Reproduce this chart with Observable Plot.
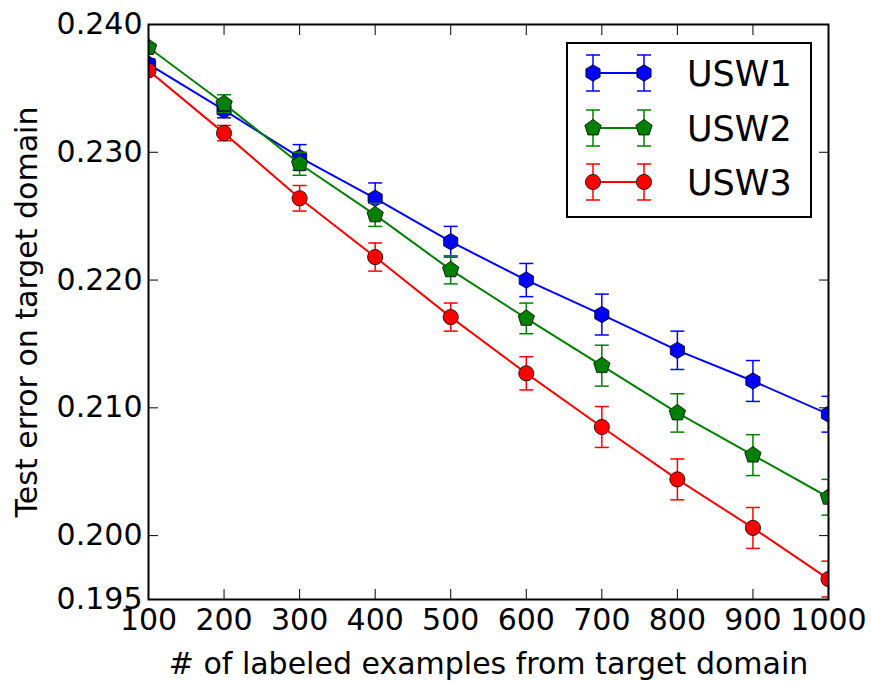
<!DOCTYPE html>
<html><head><meta charset="utf-8">
<script src="https://cdn.jsdelivr.net/npm/d3@7"></script>
<script src="https://cdn.jsdelivr.net/npm/@observablehq/plot@0.6"></script>
<style>body{margin:0;background:#fff}</style>
</head><body><div id="chart"></div>
<script>
// ---- data ----
const examples = [100, 200, 300, 400, 500, 600, 700, 800, 900, 1000];
const seriesNames = ["USW1", "USW2", "USW3"];
const seriesColors = ["#0000ff", "#008000", "#ff0000"];
const usw1 = [0.2369, 0.2333, 0.2296, 0.2264, 0.2230, 0.2200, 0.2173, 0.2145, 0.2121, 0.2095];
const usw1Err = [0.0004, 0.0006, 0.0010, 0.0012, 0.0012, 0.0013, 0.0016, 0.0015, 0.0016, 0.0014];
const usw2 = [0.2382, 0.2338, 0.2291, 0.2251, 0.2208, 0.2170, 0.2133, 0.2096, 0.2063, 0.2030];
const usw2Err = [0.0003, 0.0007, 0.0009, 0.0009, 0.0011, 0.0012, 0.0016, 0.0015, 0.0016, 0.0014];
const usw3 = [0.2364, 0.2315, 0.2264, 0.2218, 0.2171, 0.2127, 0.2085, 0.2044, 0.2006, 0.1966];
const usw3Err = [0.0003, 0.0006, 0.0010, 0.0011, 0.0011, 0.0013, 0.0016, 0.0016, 0.0016, 0.0014];
const xTicks = [100, 200, 300, 400, 500, 600, 700, 800, 900, 1000];
const yTicks = [0.195, 0.200, 0.210, 0.220, 0.230, 0.240];
const xLabel = "# of labeled examples from target domain";
const yLabel = "Test error on target domain";

// ---- symbols ----
function polygon(n, R, c) {
  for (let i = 0; i < n; i++) {
    const a = -Math.PI / 2 + i * 2 * Math.PI / n;
    const px = R * Math.cos(a), py = R * Math.sin(a);
    if (i) c.lineTo(px, py); else c.moveTo(px, py);
  }
  c.closePath();
}
const hexSym = {draw(c) { polygon(6, 8.2, c); }};
const pentSym = {draw(c) { polygon(5, 8.6, c); }};
const circSym = {draw(c) { c.moveTo(7.6, 0); c.arc(0, 0, 7.6, 0, 2 * Math.PI); c.closePath(); }};
const capSym = {draw(c) { c.moveTo(-7, 0); c.lineTo(7, 0); }};
const symbols = [hexSym, pentSym, circSym];

const values = [usw1, usw2, usw3];
const errors = [usw1Err, usw2Err, usw3Err];

const seriesMarks = seriesNames.flatMap((name, k) => {
  const rows = examples.map((x, i) => ({x, y: values[k][i], err: errors[k][i], series: name}));
  const color = seriesColors[k];
  return [
    Plot.line(rows, {x: "x", y: "y", stroke: color, strokeWidth: 2, clip: true}),
    Plot.ruleX(rows, {x: "x", y1: d => d.y - d.err, y2: d => d.y + d.err, stroke: color, strokeWidth: 1.5, clip: true}),
    Plot.dot(rows, {x: "x", y: d => d.y + d.err, symbol: capSym, r: 7, stroke: color, strokeWidth: 1.5, clip: true}),
    Plot.dot(rows, {x: "x", y: d => d.y - d.err, symbol: capSym, r: 7, stroke: color, strokeWidth: 1.5, clip: true}),
    Plot.dot(rows, {x: "x", y: "y", symbol: symbols[k], r: 7.6, fill: color, stroke: "black", strokeWidth: 0.8, clip: true})
  ];
});

const plot = Plot.plot({
  width: 871,
  height: 682,
  marginLeft: 148,
  marginRight: 43,
  marginTop: 24,
  marginBottom: 83,
  style: {fontFamily: "DejaVu Sans", fontSize: "30px", background: "white", color: "black", overflow: "visible"},
  x: {domain: [100, 1000], label: null},
  y: {domain: [0.195, 0.240], label: null},
  marks: [
    ...seriesMarks,
    Plot.axisX({anchor: "bottom", ticks: xTicks, tickSize: -10, tickPadding: 19, tickFormat: d => String(d), label: null, fontSize: 30}),
    Plot.axisX({anchor: "top", ticks: xTicks, tickSize: -10, tickFormat: () => "", label: null}),
    Plot.axisY({anchor: "left", ticks: yTicks, tickSize: -10, tickPadding: 16, tickFormat: d3.format(".3f"), label: null, fontSize: 30}),
    Plot.axisY({anchor: "right", ticks: yTicks, tickSize: -10, tickFormat: () => "", label: null}),
    Plot.frame({stroke: "black", strokeWidth: 2}),
    Plot.text([xLabel], {frameAnchor: "bottom", text: d => d, dy: 65, lineAnchor: "middle", textAnchor: "middle", fontSize: 30}),
    Plot.text([yLabel], {frameAnchor: "left", text: d => d, rotate: -90, dx: -121, lineAnchor: "middle", textAnchor: "middle", fontSize: 30})
  ]
});
document.getElementById("chart").appendChild(plot);

// ---- legend ----
const svg = d3.select(plot);
const lg = svg.append("g").attr("font-family", "DejaVu Sans");
lg.append("rect").attr("x", 567).attr("y", 43).attr("width", 244).attr("height", 174)
  .attr("fill", "white").attr("stroke", "black").attr("stroke-width", 2);
const rowY = [73, 128, 182];
seriesNames.forEach((name, k) => {
  const y = rowY[k], color = seriesColors[k];
  lg.append("line").attr("x1", 593).attr("x2", 644).attr("y1", y).attr("y2", y)
    .attr("stroke", color).attr("stroke-width", 2);
  [593, 644].forEach(x => {
    lg.append("line").attr("x1", x).attr("x2", x).attr("y1", y - 18).attr("y2", y + 18)
      .attr("stroke", color).attr("stroke-width", 1.5);
    [y - 18, y + 18].forEach(cy => lg.append("line").attr("x1", x - 7).attr("x2", x + 7)
      .attr("y1", cy).attr("y2", cy).attr("stroke", color).attr("stroke-width", 1.5));
    lg.append("path").attr("d", d3.symbol(symbols[k])()).attr("transform", `translate(${x},${y})`)
      .attr("fill", color).attr("stroke", "black").attr("stroke-width", 0.8);
  });
  lg.append("text").attr("x", 687).attr("y", y + 12.5).attr("font-size", 35)
    .attr("text-anchor", "start").attr("fill", "black").text(name);
});
</script>
</body></html>
